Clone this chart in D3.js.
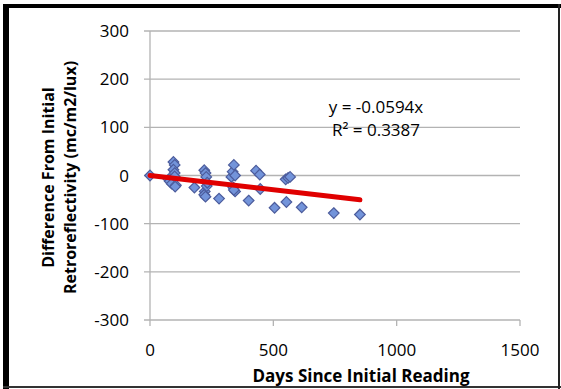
<!DOCTYPE html>
<html>
<head>
<meta charset="utf-8">
<script src="https://cdn.jsdelivr.net/npm/d3@7"></script>
<style>
  body { margin: 0; background: #fff; }
  svg { display: block; font-family: "Open Sans", "Liberation Sans", sans-serif; }
</style>
</head>
<body>
<div id="vis"></div>
<script>
// chart size and plot box
const W = 561, H = 389;
const margin = { top: 31, right: 41, bottom: 69, left: 150 };
const width = W - margin.left - margin.right;
const height = H - margin.top - margin.bottom;

// data
const days = [0, 75, 80, 88, 95, 100, 95, 100, 100, 105, 102, 180, 220, 225, 228, 222, 220, 225, 230, 232,
    280, 330, 335, 340, 345, 338, 345, 340, 400, 430, 445, 447, 505, 550, 560, 568, 553, 615, 745, 851];
const diffs = [0, -8, -12, -17, 28, 22, 12, 5, -2, -20, -23, -25, 11, 5, -3, -33, -40, -44, -22, -15,
    -48, -3, 8, 22, 0, -25, -33, -30, -52, 10, 2, -28, -67, -8, -5, -3, -55, -66, -78, -81];
const xTicks = [0, 500, 1000, 1500];
const yTicks = [-300, -200, -100, 0, 100, 200, 300];
const slope = -0.0594;
const eqLabels = ['y = -0.0594x', 'R\u00b2 = 0.3387'];

const points = days.map((d, i) => ({ x: d, y: diffs[i] }));

const svg = d3.select('#vis').append('svg')
    .attr('width', W)
    .attr('height', H);

// outer frame
svg.append('rect').attr('x', 3).attr('y', 4).attr('width', 6).attr('height', H - 4).attr('fill', '#000');
svg.append('rect').attr('x', 3).attr('y', 4).attr('width', W - 3).attr('height', 4).attr('fill', '#000');
svg.append('rect').attr('x', 3).attr('y', H - 3).attr('width', W - 3).attr('height', 2).attr('fill', '#333');
svg.append('rect').attr('x', W - 3).attr('y', 4).attr('width', 2).attr('height', H - 4).attr('fill', '#222');

const g = svg.append('g').attr('transform', `translate(${margin.left},${margin.top})`);

const x = d3.scaleLinear().domain([0, 1500]).range([0, width]);
const y = d3.scaleLinear().domain([-300, 300]).range([height, 0]);

// horizontal gridlines
g.append('g')
    .selectAll('line')
    .data(yTicks)
    .join('line')
    .attr('x1', -6).attr('x2', width)
    .attr('y1', d => y(d)).attr('y2', d => y(d))
    .attr('stroke', '#b3b3b3').attr('stroke-width', 1.3);

// y axis line
g.append('line')
    .attr('x1', 0).attr('x2', 0).attr('y1', 0).attr('y2', height)
    .attr('stroke', '#b3b3b3').attr('stroke-width', 1.3);

// x tick marks below the bottom line
g.append('g')
    .selectAll('line')
    .data(xTicks)
    .join('line')
    .attr('x1', d => x(d)).attr('x2', d => x(d))
    .attr('y1', height).attr('y2', height + 6)
    .attr('stroke', '#b3b3b3').attr('stroke-width', 1.3);

// tick labels
g.append('g')
    .selectAll('text')
    .data(yTicks)
    .join('text')
    .attr('x', -21).attr('y', d => y(d))
    .attr('dy', '0.36em')
    .attr('text-anchor', 'end')
    .attr('font-size', 17)
    .attr('fill', '#000')
    .text(d => d);

g.append('g')
    .selectAll('text')
    .data(xTicks)
    .join('text')
    .attr('x', d => x(d)).attr('y', height + 30)
    .attr('dy', '0.36em')
    .attr('text-anchor', 'middle')
    .attr('font-size', 17)
    .attr('fill', '#000')
    .text(d => d);

// axis titles
g.append('text')
    .attr('x', width / 2 + 26).attr('y', height + 56)
    .attr('dy', '0.36em')
    .attr('text-anchor', 'middle')
    .attr('font-size', 17).attr('font-weight', 'bold')
    .text('Days Since Initial Reading');

const yTitle = g.append('text')
    .attr('transform', `translate(${-96},${height / 2 + 2}) rotate(-90)`)
    .attr('text-anchor', 'middle')
    .attr('font-size', 16).attr('font-weight', 'bold');
yTitle.append('tspan').attr('x', 0).attr('dy', 0).text('Difference From Initial');
yTitle.append('tspan').attr('x', 0).attr('dy', 22).text('Retroreflectivity (mc/m2/lux)');

// diamond markers
const diamond = d3.symbol().type(d3.symbolDiamond2).size(72);
g.append('g')
    .selectAll('path')
    .data(points)
    .join('path')
    .attr('transform', d => `translate(${x(d.x)},${y(d.y)})`)
    .attr('d', diamond)
    .attr('fill', '#7394da')
    .attr('stroke', '#4c5c9c')
    .attr('stroke-width', 1.2);

// linear trendline through origin
const xMax = d3.max(days);
g.append('line')
    .attr('x1', x(0)).attr('y1', y(0))
    .attr('x2', x(xMax)).attr('y2', y(slope * xMax))
    .attr('stroke', '#e00000').attr('stroke-width', 5)
    .attr('stroke-linecap', 'round');

// equation label
g.append('g')
    .selectAll('text')
    .data(eqLabels)
    .join('text')
    .attr('x', 226).attr('y', (d, i) => 76 + i * 23)
    .attr('dy', '0.36em')
    .attr('text-anchor', 'middle')
    .attr('font-size', 17)
    .text(d => d);
</script>
</body>
</html>
